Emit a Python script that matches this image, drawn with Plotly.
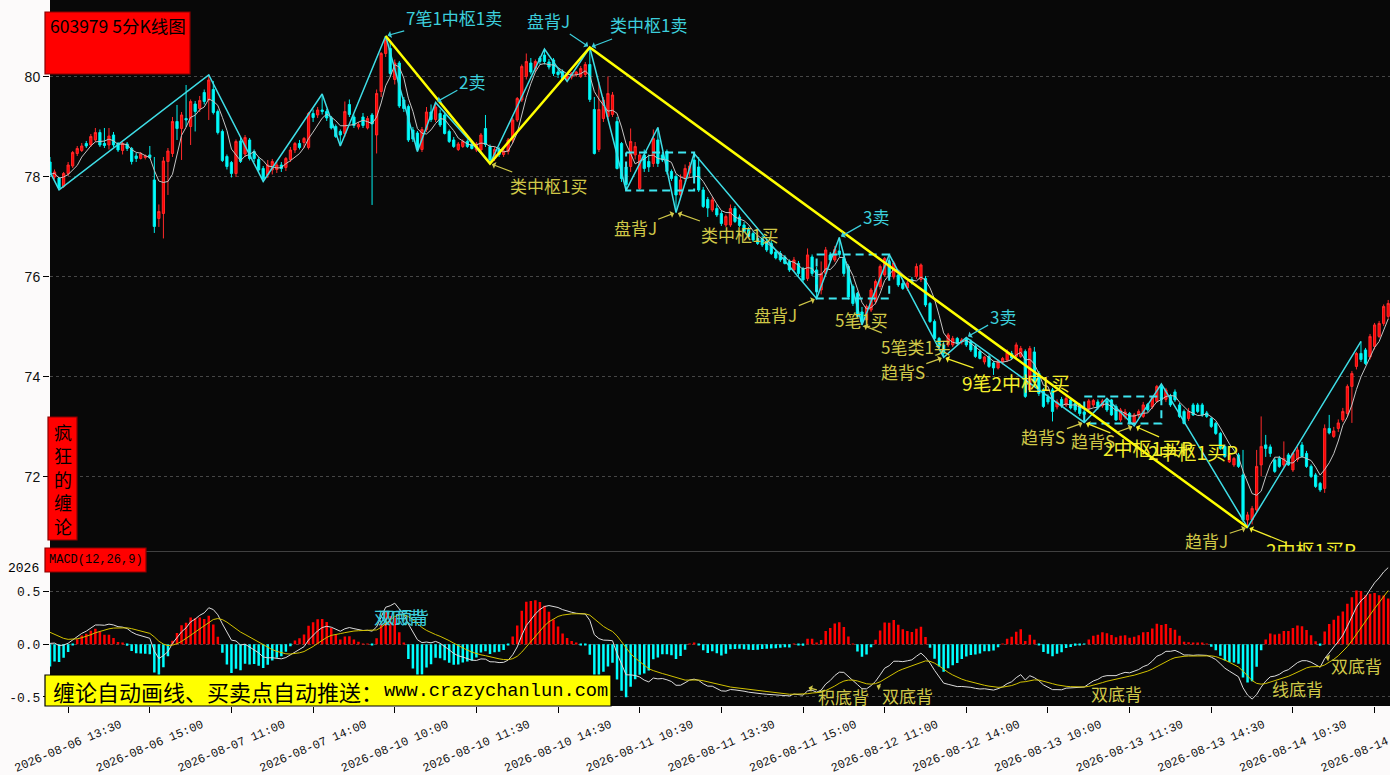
import plotly.graph_objects as go
from plotly.subplots import make_subplots
import pandas as pd

# trading days and first/last 5-minute bar shown
DAYS = ["2026-08-06", "2026-08-07", "2026-08-10", "2026-08-11",
        "2026-08-12", "2026-08-13", "2026-08-14"]
FIRST_BAR = "2026-08-06 13:10"
LAST_BAR = "2026-08-14 13:45"

TICK_LABELS = ["2026-08-06 13:30", "2026-08-06 15:00", "2026-08-07 11:00", "2026-08-07 14:00",
               "2026-08-10 10:00", "2026-08-10 11:30", "2026-08-10 14:30", "2026-08-11 10:30",
               "2026-08-11 13:30", "2026-08-11 15:00", "2026-08-12 11:00", "2026-08-12 14:00",
               "2026-08-13 10:00", "2026-08-13 11:30", "2026-08-13 14:30", "2026-08-14 10:30",
               "2026-08-14 13:30"]

OPEN = [78.30, 78.00, 77.98, 77.81, 78.07, 78.22, 78.47, 78.53, 78.67, 78.64,
        78.74, 78.89, 78.67, 78.64, 78.84, 78.67, 78.53, 78.66, 78.57, 78.42,
        78.37, 78.39, 78.44, 77.94, 77.17, 77.27, 78.31, 78.47, 79.11, 78.97,
        79.17, 79.01, 79.46, 79.37, 79.69, 79.54, 79.75, 79.31, 78.91, 78.41,
        78.29, 78.07, 78.72, 78.46, 78.74, 78.51, 78.35, 78.17, 78.04, 78.14,
        78.15, 78.24, 78.19, 78.35, 78.54, 78.67, 78.69, 78.59, 79.27, 79.24,
        79.34, 79.31, 79.18, 79.01, 78.91, 78.87, 79.45, 79.20, 79.00, 79.20,
        78.98, 79.24, 78.84, 79.71, 80.47, 80.57, 79.95, 80.28, 79.54, 79.41,
        78.94, 78.88, 78.55, 78.95, 79.30, 79.15, 79.27, 79.24, 78.91, 78.74,
        78.55, 78.61, 78.71, 78.66, 78.54, 78.54, 78.97, 78.61, 78.37, 78.55,
        78.45, 78.51, 78.74, 79.14, 79.54, 80.01, 80.28, 80.17, 80.38, 80.44,
        80.30, 80.34, 80.10, 80.11, 79.96, 80.00, 80.05, 80.01, 80.05, 80.25,
        79.35, 78.55, 79.17, 79.21, 79.25, 79.11, 78.67, 78.20, 78.21, 78.44,
        77.77, 78.44, 78.31, 78.27, 78.74, 78.44, 78.51, 78.11, 78.01, 77.64,
        77.97, 78.08, 78.34, 78.20, 77.74, 77.55, 77.34, 77.37, 77.27, 77.04,
        77.04, 77.37, 77.20, 77.04, 76.95, 76.87, 76.77, 76.77, 76.70, 76.67,
        76.50, 76.47, 76.40, 76.31, 76.14, 76.27, 76.17, 75.97, 76.40, 76.14,
        75.74, 76.07, 76.44, 76.34, 76.52, 76.37, 76.21, 75.81, 75.67, 75.30,
        75.14, 75.34, 75.51, 75.81, 76.04, 76.31, 76.00, 76.04, 75.87, 75.78,
        75.95, 76.01, 75.95, 75.97, 75.47, 75.11, 74.77, 74.64, 74.64, 74.64,
        74.77, 74.70, 74.77, 74.71, 74.61, 74.51, 74.30, 74.41, 74.28, 74.18,
        74.30, 74.34, 74.47, 74.41, 74.41, 74.51, 73.74, 74.50, 74.07, 73.74,
        73.60, 73.74, 73.40, 73.55, 73.44, 73.54, 73.47, 73.44, 73.30, 73.37,
        73.44, 73.50, 73.42, 73.52, 73.54, 73.41, 73.14, 73.20, 73.27, 73.07,
        73.24, 73.21, 73.45, 73.40, 73.51, 73.81, 73.55, 73.61, 73.70, 73.44,
        73.31, 73.17, 73.44, 73.44, 73.44, 73.28, 73.17, 73.07, 72.87, 72.61,
        72.30, 72.24, 72.44, 72.04, 71.14, 71.14, 71.34, 72.24, 72.64, 72.60,
        72.34, 72.37, 72.24, 72.44, 72.14, 72.35, 72.64, 72.47, 72.21, 72.04,
        71.87, 71.77, 72.97, 72.81, 72.97, 73.14, 73.27, 73.81, 74.21, 74.47,
        74.54, 74.40, 74.61, 74.81, 75.07, 75.21]

HIGH = [78.40, 78.15, 78.00, 78.10, 78.30, 78.52, 78.62, 78.68, 78.72, 78.86,
        78.98, 78.95, 78.98, 78.98, 78.90, 78.70, 78.70, 78.70, 78.60, 78.48,
        78.50, 78.45, 78.62, 78.40, 77.45, 78.40, 78.58, 79.20, 79.44, 79.30,
        79.84, 79.55, 79.52, 79.62, 79.75, 80.04, 79.92, 79.35, 78.95, 78.45,
        78.32, 78.75, 78.78, 78.84, 78.78, 78.55, 78.40, 78.22, 78.34, 78.36,
        78.30, 78.30, 78.40, 78.60, 78.70, 78.74, 78.80, 79.30, 79.35, 79.40,
        79.66, 79.36, 79.22, 79.05, 78.95, 79.51, 79.55, 79.25, 79.10, 79.28,
        79.22, 79.28, 79.75, 80.50, 80.82, 80.70, 80.35, 80.32, 79.60, 79.45,
        79.00, 78.92, 79.00, 79.40, 79.45, 79.49, 79.35, 79.28, 78.95, 78.80,
        78.70, 78.75, 78.75, 78.70, 78.70, 78.88, 79.24, 78.65, 78.60, 78.60,
        78.58, 78.78, 79.18, 79.60, 80.25, 80.47, 80.38, 80.35, 80.42, 80.56,
        80.36, 80.38, 80.15, 80.15, 80.05, 80.10, 80.12, 80.22, 80.30, 80.59,
        79.60, 79.90, 79.60, 80.01, 79.70, 79.20, 78.70, 78.30, 78.97, 78.70,
        78.50, 78.55, 78.45, 78.95, 78.99, 78.50, 78.55, 78.15, 78.05, 78.05,
        78.25, 78.30, 78.47, 78.40, 77.80, 77.60, 77.60, 77.45, 77.32, 77.25,
        77.45, 77.42, 77.25, 77.10, 77.00, 76.92, 76.82, 76.82, 76.75, 76.72,
        76.55, 76.52, 76.44, 76.35, 76.40, 76.32, 76.20, 76.57, 76.45, 76.20,
        76.31, 76.60, 76.50, 76.62, 76.79, 76.45, 76.25, 75.85, 75.70, 75.40,
        75.45, 75.78, 75.95, 76.25, 76.40, 76.45, 76.32, 76.08, 75.92, 75.92,
        76.00, 76.27, 76.27, 76.02, 75.50, 75.15, 74.80, 74.70, 74.88, 74.82,
        74.80, 74.78, 74.79, 74.75, 74.65, 74.55, 74.42, 74.45, 74.32, 74.35,
        74.40, 74.55, 74.52, 74.69, 74.62, 74.55, 74.62, 74.60, 74.12, 73.78,
        73.65, 73.78, 73.55, 73.60, 73.62, 73.58, 73.50, 73.48, 73.35, 73.56,
        73.56, 73.55, 73.56, 73.57, 73.56, 73.45, 73.38, 73.36, 73.30, 73.28,
        73.35, 73.50, 73.48, 73.62, 73.84, 73.86, 73.78, 73.66, 73.75, 73.48,
        73.35, 73.38, 73.48, 73.48, 73.48, 73.32, 73.20, 73.10, 72.90, 72.65,
        72.48, 72.40, 72.48, 72.54, 71.30, 71.42, 72.54, 73.21, 72.84, 72.65,
        72.38, 72.42, 72.71, 72.48, 72.50, 72.60, 72.70, 72.52, 72.25, 72.08,
        71.90, 73.05, 73.24, 73.00, 73.15, 73.38, 73.85, 74.12, 74.50, 74.71,
        74.58, 74.86, 75.08, 75.12, 75.45, 75.54]

LOW = [78.00, 77.95, 77.74, 77.78, 78.02, 78.18, 78.42, 78.50, 78.58, 78.60,
       78.70, 78.60, 78.58, 78.55, 78.60, 78.50, 78.45, 78.52, 78.25, 78.30,
       78.35, 78.35, 78.36, 76.88, 77.00, 76.77, 77.64, 78.40, 78.74, 78.34,
       79.00, 78.64, 78.91, 79.30, 79.45, 79.14, 79.25, 78.85, 78.30, 78.15,
       77.99, 78.00, 78.28, 78.40, 78.33, 78.30, 78.08, 77.91, 77.98, 78.05,
       78.08, 78.10, 78.12, 78.30, 78.48, 78.55, 78.58, 78.55, 79.10, 79.18,
       79.25, 79.12, 78.95, 78.78, 78.62, 78.80, 79.20, 78.98, 78.95, 78.98,
       78.95, 77.44, 78.47, 79.60, 80.40, 80.00, 79.85, 79.38, 79.30, 78.70,
       78.70, 78.51, 78.50, 78.90, 79.10, 79.10, 79.00, 78.85, 78.68, 78.58,
       78.52, 78.58, 78.58, 78.55, 78.50, 78.50, 78.60, 78.27, 78.32, 78.40,
       78.40, 78.45, 78.68, 79.10, 79.50, 79.95, 80.05, 80.10, 80.25, 80.25,
       80.15, 80.02, 79.98, 79.93, 79.91, 79.95, 80.00, 79.98, 80.00, 79.50,
       78.45, 78.50, 79.10, 79.15, 79.20, 78.15, 77.90, 77.73, 78.10, 78.35,
       77.74, 78.10, 78.10, 78.20, 78.20, 78.30, 78.05, 77.92, 77.29, 77.55,
       77.90, 78.00, 77.95, 77.70, 77.38, 77.20, 77.30, 77.20, 77.02, 77.00,
       77.00, 77.08, 77.00, 76.88, 76.78, 76.70, 76.64, 76.60, 76.50, 76.44,
       76.35, 76.30, 76.25, 76.10, 76.10, 76.02, 75.90, 75.92, 76.02, 75.57,
       75.65, 76.00, 76.30, 76.30, 76.40, 76.02, 75.55, 75.42, 75.18, 75.04,
       75.08, 75.30, 75.45, 75.75, 76.00, 75.98, 75.95, 75.80, 75.74, 75.72,
       75.85, 75.96, 75.90, 75.40, 75.08, 74.74, 74.58, 74.39, 74.60, 74.60,
       74.62, 74.65, 74.60, 74.50, 74.38, 74.35, 74.25, 74.18, 74.04, 74.15,
       74.25, 74.30, 74.35, 74.38, 74.38, 73.58, 73.70, 73.80, 73.62, 73.38,
       73.45, 73.11, 73.35, 73.38, 73.40, 73.35, 73.30, 73.22, 73.09, 73.30,
       73.40, 73.35, 73.38, 73.30, 73.22, 73.12, 73.10, 73.15, 73.05, 73.02,
       73.18, 73.18, 73.30, 73.36, 73.48, 73.50, 73.50, 73.40, 73.50, 73.18,
       73.05, 73.12, 73.22, 73.28, 73.20, 73.18, 72.98, 72.84, 72.54, 72.38,
       72.28, 72.20, 72.18, 71.10, 70.99, 71.05, 71.30, 72.01, 72.40, 72.40,
       72.08, 72.18, 72.20, 72.22, 72.10, 72.30, 72.38, 72.18, 71.98, 71.78,
       71.70, 71.68, 72.85, 72.78, 72.90, 73.10, 73.20, 73.08, 74.15, 74.30,
       74.24, 74.35, 74.55, 74.78, 75.02, 75.15]

CLOSE = [78.05, 78.10, 77.78, 78.07, 78.24, 78.49, 78.57, 78.62, 78.62, 78.81,
         78.89, 78.64, 78.63, 78.82, 78.64, 78.54, 78.67, 78.57, 78.31, 78.37,
         78.46, 78.42, 78.39, 77.01, 77.31, 78.32, 78.52, 79.11, 78.97, 79.24,
         79.14, 79.51, 79.31, 79.53, 79.51, 79.94, 79.29, 78.89, 78.33, 78.21,
         78.07, 78.71, 78.31, 78.79, 78.37, 78.37, 78.14, 77.97, 78.24, 78.31,
         78.24, 78.17, 78.37, 78.54, 78.67, 78.59, 78.77, 79.27, 79.19, 79.34,
         79.31, 79.18, 78.98, 78.81, 78.84, 79.31, 79.25, 79.03, 79.05, 79.03,
         79.17, 79.06, 79.67, 80.47, 80.75, 80.07, 80.28, 79.42, 79.37, 78.74,
         78.76, 78.55, 78.95, 79.30, 79.15, 79.40, 79.04, 78.87, 78.71, 78.61,
         78.66, 78.71, 78.61, 78.57, 78.66, 78.84, 78.65, 78.34, 78.55, 78.45,
         78.52, 78.74, 79.14, 79.57, 80.21, 80.31, 80.10, 80.31, 80.31, 80.31,
         80.20, 80.07, 80.05, 79.96, 80.02, 80.08, 80.10, 80.17, 80.25, 79.55,
         78.47, 79.35, 79.54, 79.67, 79.64, 78.17, 77.97, 77.85, 78.71, 78.61,
         78.44, 78.17, 78.20, 78.77, 78.27, 78.34, 78.11, 77.97, 77.64, 77.94,
         78.17, 78.22, 78.01, 77.74, 77.41, 77.38, 77.54, 77.24, 77.07, 77.21,
         77.37, 77.11, 77.03, 76.91, 76.81, 76.74, 76.67, 76.64, 76.54, 76.47,
         76.38, 76.34, 76.27, 76.14, 76.34, 76.07, 75.94, 76.44, 76.07, 75.71,
         76.07, 76.54, 76.34, 76.55, 76.45, 76.07, 75.60, 75.47, 75.21, 75.10,
         75.41, 75.74, 75.91, 76.21, 76.37, 76.01, 76.28, 75.84, 75.77, 75.88,
         75.90, 76.21, 76.24, 75.44, 75.11, 74.77, 74.61, 74.47, 74.84, 74.77,
         74.67, 74.74, 74.64, 74.54, 74.41, 74.37, 74.40, 74.21, 74.18, 74.32,
         74.37, 74.49, 74.38, 74.64, 74.57, 73.61, 74.57, 73.90, 73.67, 73.41,
         73.50, 73.31, 73.50, 73.42, 73.57, 73.38, 73.34, 73.27, 73.25, 73.52,
         73.53, 73.40, 73.52, 73.34, 73.24, 73.14, 73.34, 73.30, 73.07, 73.24,
         73.31, 73.44, 73.34, 73.60, 73.81, 73.55, 73.74, 73.44, 73.54, 73.21,
         73.07, 73.31, 73.24, 73.31, 73.24, 73.21, 73.01, 72.87, 72.57, 72.41,
         72.44, 72.37, 72.21, 71.14, 71.24, 71.37, 72.21, 72.61, 72.57, 72.47,
         72.11, 72.21, 72.37, 72.24, 72.47, 72.54, 72.41, 72.21, 72.01, 71.81,
         71.74, 72.97, 72.88, 72.92, 73.08, 73.31, 73.81, 74.07, 74.47, 74.35,
         74.27, 74.81, 75.04, 75.07, 75.41, 75.47]

# chan "bi" (strokes) vertices
BI_TIME = ["2026-08-06 13:10", "2026-08-06 13:20", "2026-08-07 10:35", "2026-08-07 13:05",
           "2026-08-07 14:10", "2026-08-07 14:30", "2026-08-10 09:50", "2026-08-10 10:25",
           "2026-08-10 10:45", "2026-08-10 13:15", "2026-08-10 14:15", "2026-08-10 14:40",
           "2026-08-11 09:35", "2026-08-11 10:15", "2026-08-11 10:50", "2026-08-11 11:10",
           "2026-08-11 11:30", "2026-08-12 09:45", "2026-08-12 10:10", "2026-08-12 10:35",
           "2026-08-12 11:05", "2026-08-12 13:35", "2026-08-12 14:00", "2026-08-13 10:40",
           "2026-08-13 11:05", "2026-08-13 13:05", "2026-08-13 13:35", "2026-08-14 09:40",
           "2026-08-14 13:15"]
BI_PRICE = [78.10, 77.74, 80.04, 77.91, 79.66, 78.62, 80.82, 78.51, 79.49, 78.27,
            80.56, 79.91, 80.59, 77.73, 78.99, 77.29, 78.47, 75.57, 76.79, 75.04,
            76.45, 74.39, 74.79, 73.09, 73.57, 73.02, 73.86, 70.99, 74.71]

# segments
SEG_TIME = ["2026-08-10 09:50", "2026-08-10 13:15", "2026-08-11 09:35", "2026-08-14 09:40"]
SEG_PRICE = [80.82, 78.27, 80.59, 70.99]

# pivots (zhongshu): start, end, high, low
PIVOT_START = ["2026-08-11 10:15", "2026-08-12 09:45", "2026-08-13 10:40"]
PIVOT_END = ["2026-08-11 11:30", "2026-08-12 11:05", "2026-08-13 13:35"]
PIVOT_HIGH = [78.49, 76.45, 73.61]
PIVOT_LOW = [77.73, 75.57, 73.07]

# MACD state before the first bar
DIF_START = 0.01
DEA_START = 0.14

CJK = "Noto Sans CJK SC"
MONO = "Liberation Mono"
CYAN_TXT = "#3ccfdc"
YEL = "#d0c848"
YEL_HI = "#f4ee2c"


def bar_times():
    slots = []
    for start in (9 * 60 + 35, 13 * 60 + 5):
        for k in range(24):
            m = start + 5 * k
            slots.append(f"{m // 60:02d}:{m % 60:02d}")
    out = [f"{d} {s}" for d in DAYS for s in slots]
    return out[out.index(FIRST_BAR):out.index(LAST_BAR) + 1]


TIMES = bar_times()

ma5 = pd.Series(CLOSE).rolling(5, min_periods=1).mean()

ema12 = CLOSE[0] + DIF_START
ema26 = CLOSE[0]
dea = DEA_START
dif_line, dea_line, hist = [], [], []
for c in CLOSE:
    ema12 += (c - ema12) * 2 / 13
    ema26 += (c - ema26) * 2 / 27
    d = ema12 - ema26
    dea += (d - dea) * 2 / 10
    dif_line.append(d)
    dea_line.append(dea)
    hist.append(2 * (d - dea))

fig = make_subplots(rows=2, cols=1, shared_xaxes=True, vertical_spacing=0)

fig.add_trace(go.Candlestick(
    x=TIMES, open=OPEN, high=HIGH, low=LOW, close=CLOSE,
    increasing=dict(line=dict(color="#ff2a2a", width=1), fillcolor="#ff0000"),
    decreasing=dict(line=dict(color="#00f0f0", width=1), fillcolor="#00ffff"),
    whiskerwidth=0, hoverinfo="skip"), row=1, col=1)
fig.add_trace(go.Scatter(x=TIMES, y=ma5, mode="lines",
                         line=dict(color="#c4c4c4", width=1)), row=1, col=1)
fig.add_trace(go.Scatter(x=BI_TIME, y=BI_PRICE, mode="lines",
                         line=dict(color="#3fdde6", width=1.5)), row=1, col=1)
for t0, t1, hi, lo in zip(PIVOT_START, PIVOT_END, PIVOT_HIGH, PIVOT_LOW):
    fig.add_trace(go.Scatter(x=[t0, t1, t1, t0, t0], y=[hi, hi, lo, lo, hi], mode="lines",
                             line=dict(color="#3fe6f0", width=2, dash="8px,5px")), row=1, col=1)
fig.add_trace(go.Scatter(x=SEG_TIME, y=SEG_PRICE, mode="lines",
                         line=dict(color="#ffff00", width=2.5)), row=1, col=1)

# label cut by the bottom of the price panel
fig.add_trace(go.Scatter(x=["2026-08-14 10:50"], y=[70.47], mode="text", text=["2中枢1买P"],
                         textfont=dict(color=YEL_HI, size=19, family=CJK),
                         cliponaxis=True), row=1, col=1)

fig.add_trace(go.Bar(x=TIMES, y=hist, width=0.55,
                     marker=dict(color=["#ff0000" if h >= 0 else "#00ffff" for h in hist],
                                 line=dict(width=0))), row=2, col=1)
fig.add_trace(go.Scatter(x=TIMES, y=dif_line, mode="lines",
                         line=dict(color="#dcdcdc", width=1)), row=2, col=1)
fig.add_trace(go.Scatter(x=TIMES, y=dea_line, mode="lines",
                         line=dict(color="#d2c200", width=1)), row=2, col=1)

# buy / sell points: text, target time, target price, label time, label price, colour, size
signals = [
    ("7笔1中枢1卖", "2026-08-10 09:50", 80.82, "2026-08-10 11:05", 81.20, CYAN_TXT, 17),
    ("2卖", "2026-08-10 10:45", 79.49, "2026-08-10 11:25", 79.90, CYAN_TXT, 17),
    ("盘背J", "2026-08-11 09:35", 80.59, "2026-08-10 14:20", 81.14, CYAN_TXT, 17),
    ("类中枢1卖", "2026-08-11 09:35", 80.59, "2026-08-11 10:40", 81.04, CYAN_TXT, 17),
    ("类中枢1买", "2026-08-10 13:15", 78.27, "2026-08-10 14:20", 77.82, YEL, 17),
    ("盘背J", "2026-08-11 11:10", 77.29, "2026-08-11 10:25", 76.98, YEL, 17),
    ("类中枢1买", "2026-08-11 11:10", 77.29, "2026-08-11 13:50", 76.84, YEL, 17),
    ("3卖", "2026-08-12 10:10", 76.79, "2026-08-12 10:50", 77.20, CYAN_TXT, 17),
    ("盘背J", "2026-08-12 09:45", 75.57, "2026-08-11 14:30", 75.24, YEL, 17),
    ("5笔类1买", "2026-08-12 10:35", 75.04, "2026-08-12 13:05", 74.60, YEL, 17),
    ("趋背S", "2026-08-12 13:35", 74.39, "2026-08-12 11:20", 74.10, YEL, 17),
    ("3卖", "2026-08-12 14:00", 74.79, "2026-08-12 14:40", 75.20, CYAN_TXT, 17),
    ("9笔2中枢1买", "2026-08-12 13:35", 74.39, "2026-08-12 14:55", 73.88, YEL_HI, 19),
    ("趋背S", "2026-08-13 10:40", 73.09, "2026-08-13 09:55", 72.80, YEL, 17),
    ("趋背S", "2026-08-13 13:05", 73.02, "2026-08-13 10:50", 72.72, YEL, 17),
    ("2中枢1买P", "2026-08-13 10:40", 73.09, "2026-08-13 13:20", 72.58, YEL_HI, 19),
    ("2中枢1买P", "2026-08-13 13:05", 73.02, "2026-08-13 14:10", 72.50, YEL_HI, 19),
    ("趋背J", "2026-08-14 09:40", 70.99, "2026-08-13 14:25", 70.72, YEL, 17),
]
for text, t, p, tt, tp, color, size in signals:
    fig.add_annotation(x=t, y=p, xref="x", yref="y", ax=tt, ay=tp, axref="x", ayref="y",
                       text=text, showarrow=True, arrowhead=1, arrowsize=1, arrowwidth=1.2,
                       arrowcolor=color, standoff=2,
                       font=dict(family=CJK, size=size, color=color))
fig.add_annotation(x="2026-08-12 10:35", y=75.14, xref="x", yref="y", text="5笔1买",
                   showarrow=False, font=dict(family=CJK, size=17, color=YEL))
fig.add_annotation(x="2026-08-14 09:40", y=70.99, xref="x", yref="y", ax="2026-08-14 10:25",
                   ay=70.66, axref="x", ayref="y", text="", showarrow=True, arrowhead=1,
                   arrowwidth=1.2, arrowcolor=YEL_HI, standoff=2)

# MACD divergence labels
macd_marks = [
    ("积底背", "2026-08-12 09:35", -0.41, "2026-08-12 10:15", -0.50),
    ("双底背", "2026-08-12 10:50", -0.39, "2026-08-12 11:25", -0.49),
    ("双底背", "2026-08-13 10:45", -0.36, "2026-08-13 11:15", -0.47),
    ("线底背", "2026-08-14 10:05", -0.34, "2026-08-14 10:35", -0.42),
    ("双底背", "2026-08-14 11:05", -0.12, "2026-08-14 13:10", -0.20),
]
for text, t, v, tt, tv in macd_marks:
    fig.add_annotation(x=t, y=v, xref="x2", yref="y2", ax=tt, ay=tv, axref="x2", ayref="y2",
                       text=text, showarrow=True, arrowhead=1, arrowwidth=1.2,
                       arrowcolor=YEL, standoff=1,
                       font=dict(family=CJK, size=17, color=YEL))
for text, t in (("双底背", "2026-08-10 10:05"), ("双顶背", "2026-08-10 10:10")):
    fig.add_annotation(x=t, y=0.26, xref="x2", yref="y2", text=text, showarrow=False,
                       font=dict(family=CJK, size=17, color=CYAN_TXT))

# boxes in paper coordinates (plot area: 50..1390 px wide, 0..706 px tall)
W, H = 1340.0, 706.0


def px(x):
    return (x - 50) / W


def py(y):
    return (H - y) / H


boxes = [
    ((45, 12, 190, 74), "#ff0000", "#8a0000"),
    ((48, 417, 77, 540), "#ff0000", "#8a0000"),
    ((45, 548, 146, 572), "#ff0000", "#8a0000"),
    ((45, 675, 611, 706), "#ffff00", "#000000"),
]
for (x0, y0, x1, y1), fill, edge in boxes:
    fig.add_shape(type="rect", xref="paper", yref="paper", x0=px(x0), x1=px(x1),
                  y0=py(y1), y1=py(y0), fillcolor=fill, line=dict(color=edge, width=1.2),
                  layer="above")


def note(x, y, text, font, xanchor="left", yanchor="middle"):
    fig.add_annotation(xref="paper", yref="paper", x=px(x), y=py(y), xanchor=xanchor,
                       yanchor=yanchor, text=text, showarrow=False, font=font)


note(48, 25, "603979 5分K线图", dict(family=CJK, size=17.5, color="#000"))
note(62.5, 478.5, "疯<br>狂<br>的<br>缠<br>论", dict(family=CJK, size=18, color="#000"),
     xanchor="center")
note(47, 560, "MACD(12,26,9)", dict(family=MONO, size=12, color="#000"))
note(51, 690.5, "缠论自动画线、买卖点自动推送：", dict(family=CJK, size=22, color="#000"))
note(382, 690.5, "www.crazychanlun.com", dict(family=MONO, size=18.7, color="#000"))
note(41, 568, "2026", dict(family=MONO, size=13, color="#000"), xanchor="right")

fig.update_layout(
    width=1390, height=775, margin=dict(l=50, r=0, t=0, b=69, autoexpand=False),
    paper_bgcolor="#fcfafa", plot_bgcolor="#080808", showlegend=False,
    font=dict(family=CJK), hovermode=False,
)
fig.update_xaxes(type="category", range=[0.0, 295.4], showgrid=False, zeroline=False,
                 rangeslider_visible=False, automargin=False)
fig.update_xaxes(showticklabels=False, ticks="", row=1, col=1)
fig.update_xaxes(tickmode="array", tickvals=TICK_LABELS, ticktext=TICK_LABELS, tickangle=-23,
                 ticks="outside", ticklen=6, tickcolor="#000", ticklabelshift=52,
                 tickfont=dict(family=MONO, size=12, color="#111"), row=2, col=1)
fig.update_yaxes(domain=[0.219, 1.0], range=[70.51, 81.54], tickvals=[72, 74, 76, 78, 80],
                 ticks="outside", ticklen=6, tickcolor="#000", showgrid=True,
                 gridcolor="#464646", griddash="dot", zeroline=False, automargin=False,
                 tickfont=dict(family="Liberation Sans", size=14, color="#111"), row=1, col=1)
fig.update_yaxes(domain=[0.0, 0.219], range=[-0.586, 0.882], tickvals=[-0.5, 0, 0.5],
                 ticktext=["-0.5", "0.0", "0.5"], ticks="outside", ticklen=6, tickcolor="#000",
                 showgrid=True, gridcolor="#464646", griddash="dot", zeroline=False,
                 automargin=False,
                 tickfont=dict(family=MONO, size=13, color="#111"), row=2, col=1)

fig.write_html("out.html", config={"displayModeBar": False},
               post_script="document.body.style.margin='0px';")
